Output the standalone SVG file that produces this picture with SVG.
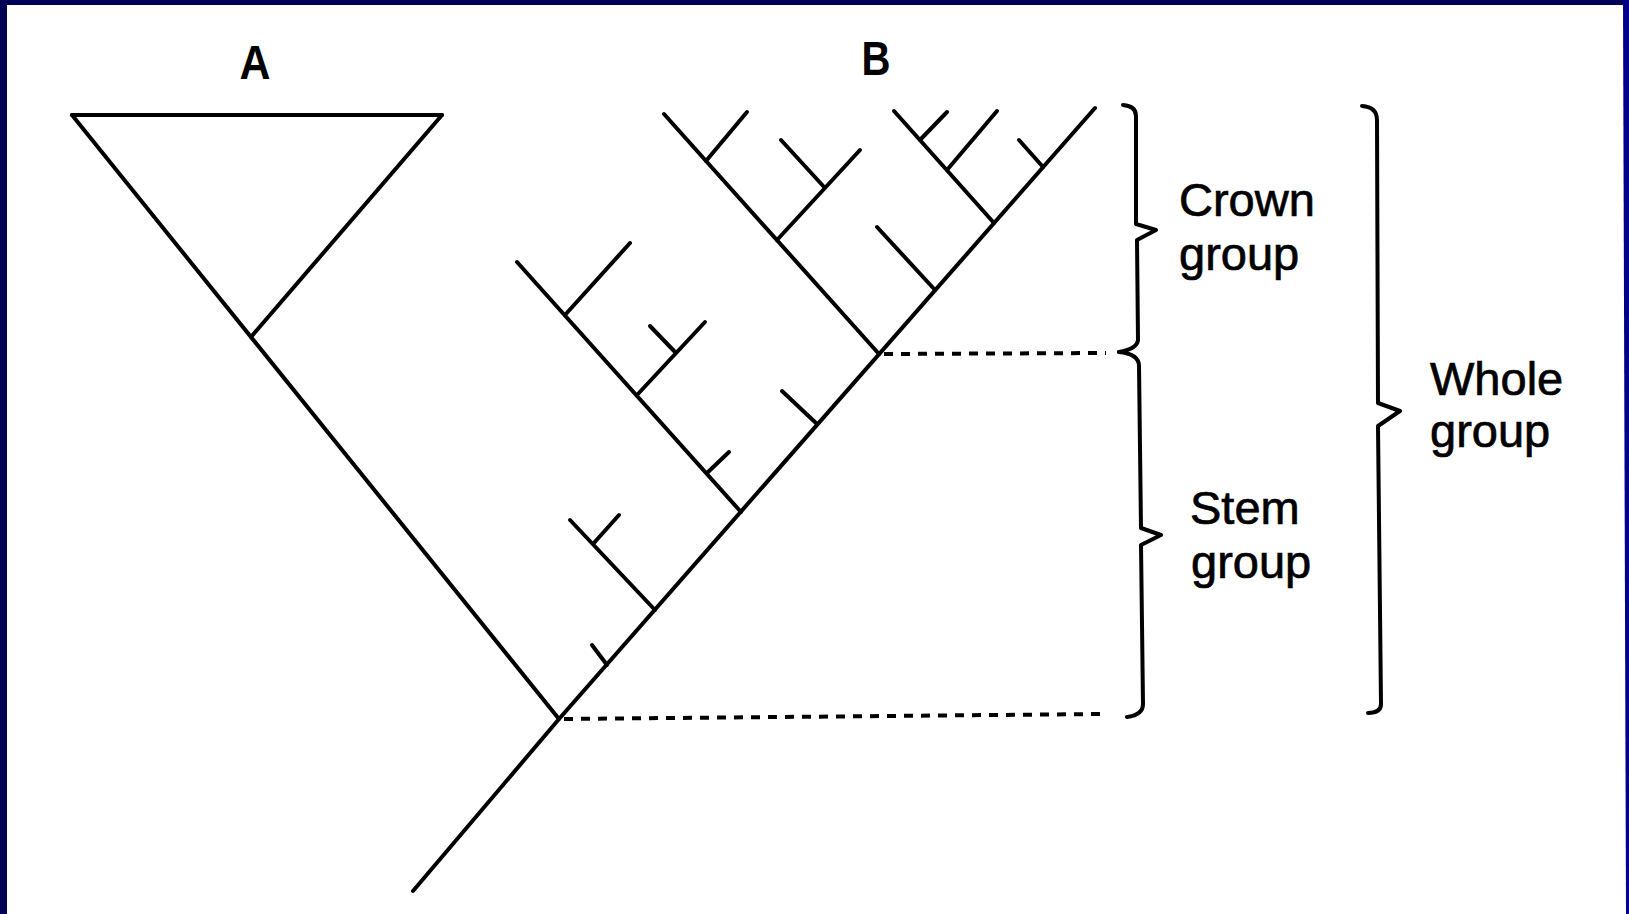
<svg xmlns="http://www.w3.org/2000/svg" width="1629" height="914" viewBox="0 0 1629 914">
  <style>
    .br { fill: none; stroke: #000; stroke-width: 4; stroke-linecap: round; stroke-linejoin: round; }
    .lvl { fill: none; stroke: #000; stroke-width: 4; stroke-dasharray: 9 8; }
    .brace { fill: none; stroke: #000; stroke-width: 4; stroke-linecap: round; stroke-linejoin: round; }
    .lab { font-family: "Liberation Sans", Arial, sans-serif; font-size: 47px; fill: #000; stroke: #000; stroke-width: 0.7; }
    .head { font-family: "Liberation Sans", Arial, sans-serif; font-size: 48px; font-weight: bold; fill: #000; text-anchor: middle; }
  </style>

  <!-- page and frame -->
  <rect x="0" y="0" width="1629" height="914" fill="#ffffff"/>
  <rect x="0" y="0" width="7" height="914" fill="#000055"/>
  <rect x="0" y="0" width="1629" height="5" fill="#000058"/>
  <polygon points="1623,0 1629,0 1629,914 1626,914" fill="#00008a"/>

  <!-- clade A: collapsed triangle -->
  <g id="clade-a">
    <path class="br" d="M72,115 L442,115" stroke-width="5"/>
    <path class="br" d="M442,115 L251,337"/>
    <path class="br" d="M72,115 L559,719"/>
  </g>

  <!-- clade B -->
  <g id="clade-b">
    <!-- main stem -->
    <path class="br" d="M413,891 L559,719 L1095,108"/>
    <!-- stem-group lineages -->
    <g id="stem-lineages">
      <path class="br" d="M607,665 L592,645"/>
      <path class="br" d="M655,610 L570,520 M593,544 L619,515"/>
      <path class="br" d="M741,512 L517,262"/>
      <path class="br" d="M565,315 L630,243"/>
      <path class="br" d="M637,395 L705,322 M676,353 L650,326"/>
      <path class="br" d="M707,473 L729,452"/>
      <path class="br" d="M817,424 L782,391"/>
    </g>
    <!-- crown-group lineages -->
    <g id="crown-lineages">
      <path class="br" d="M879,354 L664,114"/>
      <path class="br" d="M706,161 L747,112"/>
      <path class="br" d="M777,240 L860,150 M825,188 L781,140"/>
      <path class="br" d="M935,290 L877,227"/>
      <path class="br" d="M994,223 L894,111"/>
      <path class="br" d="M920,140 L947,112"/>
      <path class="br" d="M947,170 L997,111"/>
      <path class="br" d="M1043,167 L1019,140"/>
    </g>
  </g>

  <!-- dotted level lines -->
  <g id="connectors">
    <path class="lvl" d="M884,354 L1106,353"/>
    <path class="lvl" d="M564,719 L1101,714"/>
  </g>

  <!-- braces -->
  <g id="brace-crown">
    <path class="brace" d="M1123,105 Q1136,106 1136,116 L1136,224 L1156,230 L1137,240 L1138,340 Q1137,349 1119,352"/>
  </g>
  <g id="brace-stem">
    <path class="brace" d="M1119,352 Q1139,354 1139,366 L1141,528 L1161,535 L1141,545 L1143,704 Q1143,715 1127,717"/>
  </g>
  <g id="brace-whole">
    <path class="brace" d="M1362,106 Q1377,107 1377,120 L1378,403 L1400,411 L1378,426 L1381,704 Q1381,713 1368,713"/>
  </g>

  <!-- labels -->
  <g id="labels">
    <text class="head" x="255" y="79" textLength="31" lengthAdjust="spacingAndGlyphs">A</text>
    <text class="head" x="876" y="75" textLength="29" lengthAdjust="spacingAndGlyphs">B</text>
    <text class="lab" x="1179" y="216">Crown</text>
    <text class="lab" x="1179" y="270">group</text>
    <text class="lab" x="1190" y="524">Stem</text>
    <text class="lab" x="1191" y="578">group</text>
    <text class="lab" x="1430" y="395">Whole</text>
    <text class="lab" x="1430" y="447">group</text>
  </g>
</svg>
